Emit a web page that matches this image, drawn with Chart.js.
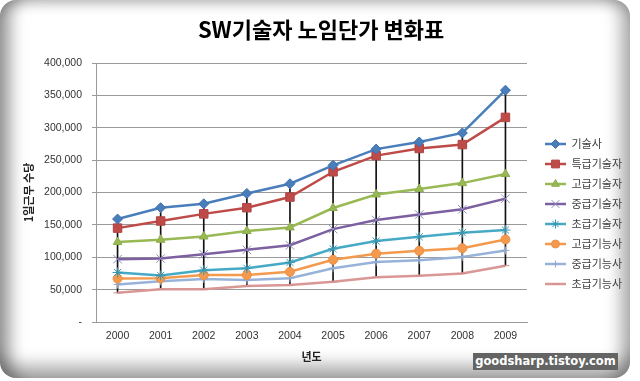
<!DOCTYPE html>
<html>
<head>
<meta charset="utf-8">
<script src="https://cdn.jsdelivr.net/npm/chart.js@4"></script>
<style>
html,body{margin:0;padding:0;background:#fff;width:640px;height:381px;overflow:hidden;}
#frame{position:absolute;left:0;top:0;width:630px;height:378px;border-radius:16px;background:#fff;
box-shadow: inset 18px 0 16px -8px rgba(0,0,0,.40), inset -18px 0 16px -8px rgba(0,0,0,.30), inset 0 -22px 16px -8px rgba(0,0,0,.30), inset 0 14px 12px -8px rgba(0,0,0,.16);}
#wm{position:absolute;left:473px;top:353px;width:145px;height:17px;background:#646464;color:#fff;font:bold 11.5px 'DejaVu Sans',sans-serif;line-height:17px;text-align:center;}
#c{position:absolute;left:0;top:0;}
</style>
</head>
<body>
<div id="frame"></div>
<canvas id="c" width="640" height="381"></canvas>
<div id="wm">goodsharp.tistoy.com</div>
<script>
// ---- data ----
const categories = ['2000','2001','2002','2003','2004','2005','2006','2007','2008','2009'];
const seriesNames = ['기술사','특급기술자','고급기술자','중급기술자','초급기술자','고급기능사','중급기능사','초급기능사'];
const engineerMaster   = [159000, 176500, 182500, 198500, 213500, 242000, 267000, 278000, 292000, 358000];
const engineerSpecial  = [145000, 156000, 167000, 176500, 193000, 232000, 257000, 268000, 274000, 316000];
const engineerHigh     = [123500, 127000, 132000, 140500, 146000, 176000, 197000, 205500, 214500, 228500];
const engineerMid      = [97000, 98000, 104500, 111500, 118500, 143500, 157500, 166000, 174000, 190500];
const engineerLow      = [76500, 72000, 80000, 83000, 92000, 113000, 125000, 131500, 138000, 142000];
const technicianHigh   = [67000, 67500, 72500, 72500, 77500, 96000, 105500, 110000, 114000, 127500];
const technicianMid    = [58000, 63000, 66500, 65000, 67500, 83000, 92500, 95500, 100500, 110500];
const technicianLow    = [45000, 50500, 50500, 55500, 57000, 62000, 69000, 71500, 75000, 87000];
const yTickLabels = ['-','50,000','100,000','150,000','200,000','250,000','300,000','350,000','400,000'];

const seriesValues = [engineerMaster, engineerSpecial, engineerHigh, engineerMid, engineerLow, technicianHigh, technicianMid, technicianLow];

// ---- styles ----
const colors = ['#4A7EBB','#BE4B48','#98B954','#7D60A0','#46AAC5','#F39A4E','#98B3D9','#D99795'];
const pointBorders = ['#3F6FAD','#B04442','#8CAD4B','#8E8CC0','#3B97B0','#EE8F42','#8FA9CF','#D08D8B'];
const pointStyles = ['rectRot','rect','triangle','crossRot','star','circle','cross','line'];
const pointRadii = [5, 6, 5, 6, 5, 4.5, 4, 4];

// high-low lines derived from the series
const hiLo = categories.map((c, i) => {
  const v = seriesValues.map(s => s[i]);
  return [Math.min(...v), Math.max(...v)];
});

function makeIcon(i) {
  const cv = document.createElement('canvas');
  cv.width = 30; cv.height = 12;
  const x = cv.getContext('2d');
  x.strokeStyle = colors[i]; x.lineWidth = 2.5;
  x.beginPath(); x.moveTo(9, 6); x.lineTo(30, 6); x.stroke();
  x.fillStyle = colors[i]; x.strokeStyle = pointBorders[i]; x.lineWidth = 1;
  if (Chart.helpers && typeof Chart.helpers.drawPoint === 'function') {
    Chart.helpers.drawPoint(x, {pointStyle: pointStyles[i], radius: pointRadii[i] - 0.5, borderWidth: 1, rotation: 0}, 19.5, 6);
  }
  return cv;
}
const legendIcons = seriesNames.map((n, i) => makeIcon(i));

const datasets = seriesNames.map((name, i) => ({
  type: 'line',
  label: name,
  data: seriesValues[i],
  borderColor: colors[i],
  backgroundColor: colors[i],
  borderWidth: 2.5,
  pointStyle: pointStyles[i],
  pointRadius: pointRadii[i],
  pointBackgroundColor: colors[i],
  pointBorderColor: pointBorders[i],
  pointBorderWidth: 1,
  tension: 0,
  order: i
}));
datasets.push({
  type: 'bar',
  label: 'hilo',
  data: hiLo,
  backgroundColor: '#111',
  borderWidth: 0,
  barThickness: 1,
  order: 100
});

new Chart(document.getElementById('c'), {
  data: { labels: categories, datasets: datasets },
  options: {
    responsive: false,
    animation: false,
    layout: { padding: { left: 10, right: 8, top: 4, bottom: 10 } },
    scales: {
      x: {
        type: 'category',
        offset: true,
        grid: { display: false, drawTicks: false },
        border: { display: true, color: '#9a9a9a' },
        ticks: { color: '#333', padding: 8, font: { family: 'Liberation Sans', size: 10.5 } },
        title: { display: true, text: '년도', color: '#222', padding: { top: 0, bottom: 8 },
                 font: { family: 'Noto Sans CJK KR', size: 11, weight: 'bold' } },
        afterFit: s => { s.height = 49; }
      },
      y: {
        min: 0, max: 400000,
        ticks: { stepSize: 50000, color: '#333', padding: 10,
                 font: { family: 'Liberation Sans', size: 10.5 },
                 callback: (v, i) => yTickLabels[i] },
        grid: { color: '#9a9a9a', lineWidth: 1, tickLength: 4, drawTicks: true },
        border: { display: true, color: '#9a9a9a' },
        title: { display: true, text: '1일근무 수당', color: '#222', padding: { top: 12, bottom: 0 },
                 font: { family: 'Noto Sans CJK KR', size: 11, weight: 'bold' } },
        afterFit: s => { s.width = 86; }
      }
    },
    plugins: {
      tooltip: { enabled: false },
      title: {
        display: true,
        text: 'SW기술자 노임단가 변화표',
        color: '#000',
        font: { family: 'Noto Sans CJK KR', size: 22, weight: 'bold', lineHeight: 1.1 },
        padding: { top: 14, bottom: 20.8 }
      },
      legend: {
        display: true,
        position: 'right',
        align: 'start',
        fullSize: false,
        maxWidth: 105,
        title: { display: true, text: '', font: { size: 11, lineHeight: 1 }, padding: { top: 55.5, bottom: 0 } },
        labels: {
          usePointStyle: true,
          pointStyleWidth: 30,
          boxHeight: 11,
          padding: 9,
          color: '#404040',
          font: { family: 'Noto Sans CJK KR', size: 11 },
          generateLabels: chart => seriesNames.map((name, i) => ({
            text: name,
            pointStyle: legendIcons[i],
            fillStyle: colors[i],
            strokeStyle: colors[i],
            lineWidth: 0,
            hidden: false,
            datasetIndex: i,
            fontColor: '#404040'
          }))
        }
      }
    }
  }
});
</script>
</body>
</html>
